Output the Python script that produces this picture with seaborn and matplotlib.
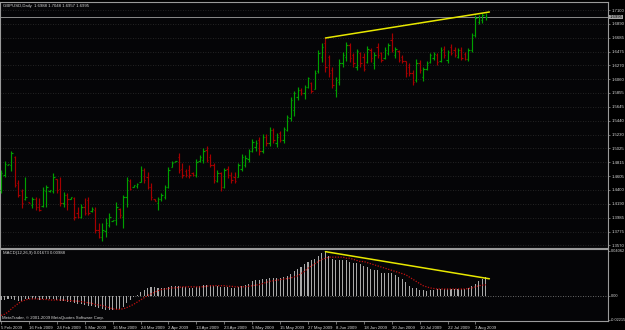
import numpy as np
import pandas as pd
import matplotlib
matplotlib.use('Agg')
import matplotlib.pyplot as plt
from matplotlib import font_manager
import seaborn as sns

# GBPUSD daily bars (one entry per bar, oldest first)
opens = [1.4400, 1.4620, 1.4775, 1.4770, 1.4900, 1.4500, 1.4380, 1.4260, 1.4215, 1.4180,
         1.4270, 1.4150, 1.4160, 1.4380, 1.4380, 1.4390, 1.4560, 1.4420, 1.4200, 1.4330,
         1.4270, 1.4280, 1.4050, 1.4000, 1.4150, 1.4250, 1.4080, 1.4100, 1.3800, 1.3700,
         1.3780, 1.3880, 1.3940, 1.3950, 1.4120, 1.4000, 1.4300, 1.4540, 1.4450, 1.4460,
         1.4520, 1.4700, 1.4600, 1.4450, 1.4260, 1.4200, 1.4260, 1.4300, 1.4450, 1.4750,
         1.4825, 1.4900, 1.4720, 1.4680, 1.4700, 1.4650, 1.4620, 1.4830, 1.4850, 1.5000,
         1.4900, 1.4780, 1.4540, 1.4650, 1.4450, 1.4720, 1.4620, 1.4600, 1.4600, 1.4720,
         1.4780, 1.4870, 1.4980, 1.5050, 1.5150, 1.4980, 1.5200, 1.5100, 1.5300, 1.5100,
         1.5250, 1.5150, 1.5300, 1.5480, 1.5600, 1.5800, 1.5900, 1.5850, 1.5950, 1.6000,
         1.5920, 1.6180, 1.6400, 1.6600, 1.6400, 1.6200, 1.5900, 1.6020, 1.6300, 1.6400,
         1.6580, 1.6420, 1.6250, 1.6450, 1.6400, 1.6320, 1.6500, 1.6300, 1.6550, 1.6450,
         1.6380, 1.6450, 1.6650, 1.6420, 1.6480, 1.6400, 1.6330, 1.6250, 1.6150, 1.6050,
         1.6300, 1.6100, 1.6220, 1.6320, 1.6380, 1.6430, 1.6330, 1.6520, 1.6350, 1.6550,
         1.6500, 1.6400, 1.6500, 1.6440, 1.6360, 1.6500, 1.6720, 1.6920, 1.6950, 1.6988]
highs = [1.4700, 1.4835, 1.4790, 1.4985, 1.4910, 1.4550, 1.4415, 1.4595, 1.4220, 1.4295,
         1.4295, 1.4280, 1.4445, 1.4475, 1.4400, 1.4655, 1.4565, 1.4595, 1.4370, 1.4355,
         1.4295, 1.4295, 1.4145, 1.4190, 1.4280, 1.4295, 1.4145, 1.4145, 1.3905, 1.3905,
         1.3980, 1.4055, 1.3955, 1.4220, 1.4130, 1.4325, 1.4595, 1.4565, 1.4475, 1.4505,
         1.4760, 1.4730, 1.4670, 1.4505, 1.4265, 1.4295, 1.4355, 1.4475, 1.4745, 1.4835,
         1.4835, 1.4955, 1.4805, 1.4715, 1.4775, 1.4670, 1.4865, 1.4925, 1.5030, 1.5060,
         1.4940, 1.4805, 1.4700, 1.4670, 1.4730, 1.4760, 1.4670, 1.4670, 1.4805, 1.4940,
         1.4925, 1.5015, 1.5165, 1.5150, 1.5195, 1.5240, 1.5240, 1.5345, 1.5330, 1.5255,
         1.5285, 1.5345, 1.5525, 1.5795, 1.5885, 1.5945, 1.5930, 1.5975, 1.6095, 1.6020,
         1.6200, 1.6500, 1.6605, 1.6680, 1.6425, 1.6245, 1.6095, 1.6365, 1.6470, 1.6620,
         1.6605, 1.6455, 1.6515, 1.6470, 1.6455, 1.6560, 1.6530, 1.6470, 1.6605, 1.6470,
         1.6545, 1.6605, 1.6755, 1.6545, 1.6500, 1.6425, 1.6335, 1.6305, 1.6200, 1.6365,
         1.6350, 1.6245, 1.6335, 1.6455, 1.6470, 1.6455, 1.6545, 1.6560, 1.6500, 1.6590,
         1.6545, 1.6530, 1.6545, 1.6470, 1.6530, 1.6755, 1.7025, 1.7025, 1.7055, 1.7048]
lows = [1.4355, 1.4595, 1.4770, 1.4685, 1.4445, 1.4295, 1.4130, 1.4250, 1.4200, 1.4130,
        1.4100, 1.4085, 1.4145, 1.4145, 1.4370, 1.4355, 1.4355, 1.4160, 1.4145, 1.4100,
        1.4265, 1.3950, 1.3980, 1.3980, 1.4025, 1.4025, 1.4070, 1.3755, 1.3680, 1.3635,
        1.3695, 1.3845, 1.3935, 1.3875, 1.3980, 1.3830, 1.4145, 1.4400, 1.4445, 1.4430,
        1.4520, 1.4505, 1.4415, 1.4250, 1.4235, 1.4100, 1.4235, 1.4265, 1.4430, 1.4740,
        1.4820, 1.4655, 1.4580, 1.4595, 1.4580, 1.4610, 1.4595, 1.4820, 1.4805, 1.4820,
        1.4745, 1.4505, 1.4520, 1.4385, 1.4430, 1.4580, 1.4505, 1.4505, 1.4595, 1.4685,
        1.4745, 1.4820, 1.4970, 1.4985, 1.4925, 1.4955, 1.5060, 1.5060, 1.5105, 1.5045,
        1.5120, 1.5105, 1.5285, 1.5435, 1.5510, 1.5750, 1.5825, 1.5765, 1.5930, 1.5855,
        1.5915, 1.6155, 1.6320, 1.6170, 1.6095, 1.5930, 1.5795, 1.5975, 1.6245, 1.6335,
        1.6320, 1.6245, 1.6200, 1.6245, 1.6185, 1.6305, 1.6320, 1.6215, 1.6380, 1.6320,
        1.6365, 1.6425, 1.6470, 1.6380, 1.6320, 1.6305, 1.6095, 1.6110, 1.5975, 1.6020,
        1.6155, 1.6035, 1.6200, 1.6305, 1.6350, 1.6275, 1.6320, 1.6380, 1.6305, 1.6425,
        1.6395, 1.6380, 1.6350, 1.6350, 1.6335, 1.6470, 1.6695, 1.6890, 1.6905, 1.6957]
closes = [1.4650, 1.4790, 1.4785, 1.4950, 1.4480, 1.4330, 1.4200, 1.4300, 1.4205, 1.4270,
          1.4140, 1.4100, 1.4400, 1.4440, 1.4395, 1.4600, 1.4400, 1.4200, 1.4330, 1.4260,
          1.4290, 1.4000, 1.4000, 1.4150, 1.4050, 1.4060, 1.4110, 1.3800, 1.3700, 1.3800,
          1.3900, 1.4000, 1.3950, 1.4150, 1.4020, 1.4300, 1.4550, 1.4420, 1.4470, 1.4490,
          1.4700, 1.4550, 1.4450, 1.4300, 1.4240, 1.4270, 1.4320, 1.4440, 1.4700, 1.4810,
          1.4830, 1.4700, 1.4620, 1.4620, 1.4620, 1.4630, 1.4820, 1.4900, 1.4980, 1.4850,
          1.4780, 1.4550, 1.4650, 1.4450, 1.4700, 1.4620, 1.4550, 1.4540, 1.4770, 1.4900,
          1.4880, 1.4980, 1.5120, 1.5110, 1.4980, 1.5200, 1.5100, 1.5300, 1.5150, 1.5200,
          1.5150, 1.5310, 1.5500, 1.5750, 1.5850, 1.5900, 1.5850, 1.5950, 1.6080, 1.5880,
          1.6150, 1.6450, 1.6550, 1.6250, 1.6150, 1.5980, 1.6050, 1.6300, 1.6420, 1.6580,
          1.6380, 1.6300, 1.6480, 1.6300, 1.6220, 1.6520, 1.6380, 1.6420, 1.6420, 1.6350,
          1.6500, 1.6570, 1.6500, 1.6520, 1.6350, 1.6330, 1.6150, 1.6150, 1.6020, 1.6300,
          1.6200, 1.6220, 1.6300, 1.6420, 1.6440, 1.6320, 1.6500, 1.6420, 1.6470, 1.6450,
          1.6420, 1.6500, 1.6380, 1.6370, 1.6500, 1.6720, 1.6980, 1.6990, 1.7020, 1.6995]

# MACD(12,26,9) histogram and signal
macd_hist = [-0.0040, -0.0040, -0.0035, -0.0030, -0.0040, -0.0045, -0.0045, -0.0030, -0.0030, -0.0030,
             -0.0035, -0.0040, -0.0035, -0.0030, -0.0030, -0.0035, -0.0040, -0.0050, -0.0050, -0.0060,
             -0.0060, -0.0070, -0.0080, -0.0080, -0.0085, -0.0090, -0.0090, -0.0100, -0.0110, -0.0120,
             -0.0130, -0.0135, -0.0135, -0.0130, -0.0120, -0.0100, -0.0070, -0.0040, -0.0010, 0.0010,
             0.0030, 0.0050, 0.0070, 0.0080, 0.0080, 0.0070, 0.0070, 0.0070, 0.0080, 0.0090,
             0.0090, 0.0090, 0.0080, 0.0080, 0.0070, 0.0070, 0.0080, 0.0090, 0.0100, 0.0100,
             0.0100, 0.0090, 0.0090, 0.0080, 0.0080, 0.0080, 0.0070, 0.0070, 0.0080, 0.0090,
             0.0100, 0.0110, 0.0130, 0.0140, 0.0140, 0.0150, 0.0150, 0.0160, 0.0160, 0.0160,
             0.0160, 0.0170, 0.0180, 0.0200, 0.0220, 0.0240, 0.0260, 0.0290, 0.0310, 0.0320,
             0.0330, 0.0360, 0.0390, 0.0400, 0.0360, 0.0330, 0.0320, 0.0320, 0.0320, 0.0320,
             0.0310, 0.0300, 0.0300, 0.0290, 0.0270, 0.0260, 0.0240, 0.0230, 0.0230, 0.0210,
             0.0210, 0.0210, 0.0210, 0.0190, 0.0170, 0.0150, 0.0120, 0.0090, 0.0070, 0.0070,
             0.0050, 0.0050, 0.0040, 0.0050, 0.0050, 0.0060, 0.0060, 0.0060, 0.0060, 0.0060,
             0.0060, 0.0060, 0.0060, 0.0060, 0.0070, 0.0090, 0.0110, 0.0130, 0.0150, 0.01673]
macd_signal = [-0.0180, -0.0170, -0.0150, -0.0120, -0.0095, -0.0070, -0.0050, -0.0040, -0.0030, -0.0030,
               -0.0030, -0.0030, -0.0035, -0.0035, -0.0040, -0.0040, -0.0040, -0.0040, -0.0040, -0.0045,
               -0.0045, -0.0050, -0.0050, -0.0055, -0.0060, -0.0065, -0.0070, -0.0080, -0.0085, -0.0090,
               -0.0100, -0.0110, -0.0120, -0.0125, -0.0125, -0.0120, -0.0110, -0.0095, -0.0080, -0.0060,
               -0.0040, -0.0020, 0.0000, 0.0015, 0.0030, 0.0045, 0.0055, 0.0060, 0.0065, 0.0070,
               0.0070, 0.0075, 0.0080, 0.0080, 0.0080, 0.0080, 0.0080, 0.0080, 0.0080, 0.0085,
               0.0090, 0.0090, 0.0090, 0.0090, 0.0090, 0.0085, 0.0085, 0.0080, 0.0080, 0.0080,
               0.0080, 0.0085, 0.0090, 0.0095, 0.0100, 0.0110, 0.0120, 0.0130, 0.0135, 0.0140,
               0.0145, 0.0150, 0.0155, 0.0160, 0.0170, 0.0180, 0.0200, 0.0220, 0.0250, 0.0270,
               0.0290, 0.0310, 0.0330, 0.0340, 0.0350, 0.0350, 0.0350, 0.0350, 0.0350, 0.0340,
               0.0340, 0.0330, 0.0320, 0.0310, 0.0310, 0.0300, 0.0290, 0.0280, 0.0270, 0.0260,
               0.0250, 0.0240, 0.0230, 0.0220, 0.0210, 0.0200, 0.0190, 0.0170, 0.0150, 0.0130,
               0.0110, 0.0090, 0.0080, 0.0070, 0.0065, 0.0060, 0.0060, 0.0060, 0.0060, 0.0060,
               0.0060, 0.0060, 0.0060, 0.0060, 0.0065, 0.0070, 0.0080, 0.0090, 0.0095, 0.00988]

date_labels = ['5 Feb 2009', '16 Feb 2009', '24 Feb 2009', '5 Mar 2009', '16 Mar 2009',
               '24 Mar 2009', '2 Apr 2009', '13 Apr 2009', '23 Apr 2009', '5 May 2009',
               '15 May 2009', '27 May 2009', '8 Jun 2009', '18 Jun 2009', '30 Jun 2009',
               '10 Jul 2009', '22 Jul 2009', '3 Aug 2009']
price_ticks = [1.7100, 1.6890, 1.6685, 1.6475, 1.6270, 1.6060, 1.5855, 1.5645, 1.5440,
               1.5230, 1.5025, 1.4815, 1.4605, 1.4400, 1.4190, 1.3985, 1.3775, 1.3570]
macd_ticks = [0.04062, 0.0, -0.02215]
macd_tick_labels = ['0.04062', '0.00', '-0.02215']

# hand-drawn yellow trend lines (bar index, value)
trend_bars = [93, 140]
trend_price = [1.6680, 1.7070]
trend_macd = [0.0400, 0.0153]
bid = 1.6995

header = 'GBPUSD,Daily  1.6988 1.7048 1.6957 1.6995'
macd_title = 'MACD(12,26,9) 0.01673 0.00988'
copyright_txt = 'MetaTrader, \u00a9 2001-2009 MetaQuotes Software Corp.'

df = pd.DataFrame({'bar': np.arange(len(closes)), 'open': opens, 'high': highs,
                   'low': lows, 'close': closes, 'hist': macd_hist, 'signal': macd_signal})
df['up'] = df['close'] >= df['open']

bg = '#050507'
edge = '#9a9a9a'
txt = '#d8d8d8'
sns.set_style('dark', rc={'axes.facecolor': bg, 'figure.facecolor': '#000000',
                          'axes.edgecolor': edge, 'text.color': txt})
names = {f.name for f in font_manager.fontManager.ttflist}
if 'Liberation Sans Narrow' in names:
    fam, fs = 'Liberation Sans Narrow', 3.7
else:
    fam, fs = 'Liberation Sans', 3.1
plt.rcParams['font.family'] = [fam, 'DejaVu Sans']

fig = plt.figure(figsize=(6.25, 3.3), dpi=100, facecolor='#000000')
ax = fig.add_axes([0.0, 1 - 248 / 330, 608 / 625, 246 / 330])
ax2 = fig.add_axes([0.0, 9 / 330, 608 / 625, 72 / 330])
xmax = 174.0

# price bars
for up, color in [(True, '#00a000'), (False, '#a40000')]:
    d = df[df['up'] == up]
    ax.vlines(d['bar'], d['low'], d['high'], colors=color, lw=0.85, zorder=3)
    ax.hlines(d['open'], d['bar'] - 0.4, d['bar'], colors=color, lw=0.85, zorder=3)
    ax.hlines(d['close'], d['bar'], d['bar'] + 0.4, colors=color, lw=0.85, zorder=3)

ax.axhline(bid, color='#8c8c8c', lw=0.7, zorder=2)
sns.lineplot(x=trend_bars, y=trend_price, color='#e8e800', lw=1.1, ax=ax, zorder=4)

ax.set_xlim(-0.29, xmax)
ax.set_ylim(1.3530, 1.7220)
ax.yaxis.tick_right()
ax.set_yticks(price_ticks)
ax.set_yticklabels(['%.4f' % v for v in price_ticks])
ax.tick_params(axis='y', right=True, length=1.5, width=0.5, color=edge, labelcolor=txt,
               labelsize=fs, pad=0.8)
ax.set_xticks([])
ax.grid(axis='y', color='#2e2e2e', ls=(0, (1, 2)), lw=0.6)
ax.grid(axis='x', visible=False)
ax.set_axisbelow(True)
for s in ax.spines.values():
    s.set_color(edge)
    s.set_linewidth(0.8)
ax.text(1.002, bid, '%.4f' % bid, transform=ax.get_yaxis_transform(), fontsize=fs,
        color='#000000', va='center', ha='left', clip_on=False,
        bbox=dict(facecolor='#a0a0a0', edgecolor='none', pad=0.3))

# MACD window
sns.barplot(data=df, x='bar', y='hist', native_scale=True, width=0.3, color='#a8a8a8',
            saturation=1, errorbar=None, linewidth=0, ax=ax2, zorder=3)
sns.lineplot(data=df, x='bar', y='signal', color='#c41010', lw=0.9,
             linestyle=(0, (1, 1.2)), ax=ax2, zorder=4)
sns.lineplot(x=trend_bars, y=trend_macd, color='#e8e800', lw=1.1, ax=ax2, zorder=5)
ax2.axhline(0, color='#8a8a8a', ls=(0, (1, 2)), lw=0.6, zorder=2)

ax2.set_xlim(-0.29, xmax)
ax2.set_ylim(-0.0231, 0.0424)
ax2.set_xlabel('')
ax2.set_ylabel('')
ax2.yaxis.tick_right()
ax2.set_yticks(macd_ticks)
ax2.set_yticklabels(macd_tick_labels)
ax2.tick_params(axis='y', right=True, length=1.5, width=0.5, color=edge, labelcolor=txt,
                labelsize=fs - 0.3, pad=0.8)
ax2.set_xticks(np.arange(0, 8 * len(date_labels), 8))
ax2.set_xticklabels(date_labels)
ax2.tick_params(axis='x', bottom=True, length=2.5, width=0.5, color=edge, labelcolor=txt,
                labelsize=fs, pad=1)
for lbl in ax2.get_xticklabels():
    lbl.set_ha('left')
ax2.grid(False)
for s in ax2.spines.values():
    s.set_color(edge)
    s.set_linewidth(0.8)

fig.text(3 / 625, 1 - 6 / 330, header, fontsize=fs, color=txt, va='center', ha='left')
fig.text(3 / 625, 1 - 253 / 330, macd_title, fontsize=fs, color=txt, va='center', ha='left')
fig.text(2 / 625, 1 - 318 / 330, copyright_txt, fontsize=fs, color=txt, va='center', ha='left')

fig.savefig('out.png', dpi=100, facecolor='#000000')
